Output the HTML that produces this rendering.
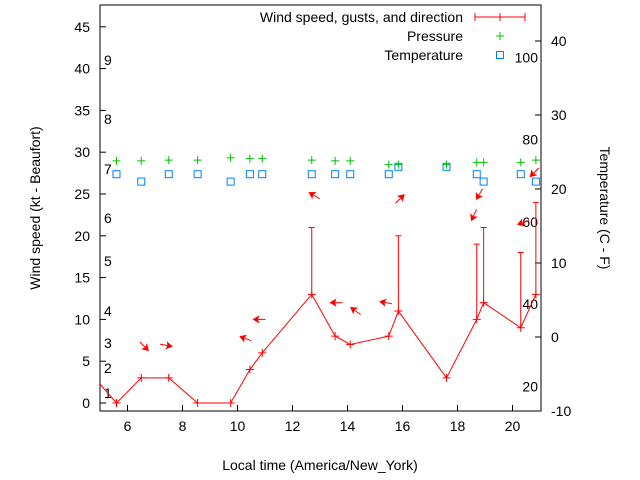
<!DOCTYPE html>
<html><head><meta charset="utf-8"><style>
body{margin:0;background:#fff;}
svg{display:block;font-family:"Liberation Sans",sans-serif;}
</style></head><body>
<svg id="c" width="640" height="480" xmlns="http://www.w3.org/2000/svg"></svg>
<script>
const times=[4.8,5.6,6.5,7.5,8.55,9.75,10.45,10.9,12.7,13.55,14.1,15.5,15.85,17.6,18.7,18.95,20.3,20.85];
const wind=[3,0,3,3,0,0,4,6,13,8,7,8,11,3,10,12,9,13];
const gustTimes=[12.7,15.85,18.7,18.95,20.3,20.85];
const gustBase=[13,11,10,12,9,13];
const gusts=[21,20,19,21,18,24];
const ptTimes=[5.6,6.5,7.5,8.55,9.75,10.45,10.9,12.7,13.55,14.1,15.5,15.85,17.6,18.7,18.95,20.3,20.85];
const temps=[22,21,22,22,21,22,22,22,22,22,22,23,23,22,21,22,21];
const pressure=[23.8,23.8,23.9,23.9,24.2,24.1,24.1,23.9,23.8,23.8,23.3,23.3,23.3,23.6,23.6,23.6,23.9];
const arrowTimes=[6.6,7.4,10.3,10.8,12.8,13.6,14.3,15.4,15.9,18.8,18.6,20.4,20.8];
const arrowLevel=[6.8,6.9,7.7,10,24.8,12,11,12,24.4,25,22.5,21.6,27.6];
const arrowAngle=[45,10,200,180,210,180,215,190,-45,120,115,160,135];
const yTicks=[0,5,10,15,20,25,30,35,40,45];
const xTicks=[6,8,10,12,14,16,18,20];
const rTicks=[-10,0,10,20,30,40];
const beaufort=[["1",1.2],["2",4.2],["3",7.2],["4",11.0],["5",17.0],["6",22.1],["7",28.0],["8",34.0],["9",41.0]];
const fahr=[20,40,60,80,100];

const L=100,R=541,T=5,B=411;
const xs=h=>L+(h-5)*27.5;
const ys=v=>403-v*8.36;
const yr=v=>337-v*7.4;
const svg=document.getElementById('c');
const NS="http://www.w3.org/2000/svg";
function el(tag,attrs,parent){const e=document.createElementNS(NS,tag);for(const k in attrs)e.setAttribute(k,attrs[k]);(parent||svg).appendChild(e);return e;}
function txt(s,x,y,anchor,name,parent){const t=el('text',{x:x,y:y,'font-size':14,'text-anchor':anchor||'start',fill:'#000'},parent);t.textContent=s;return t;}

const defs=el('defs',{});
const cp=el('clipPath',{id:'pc'},defs);el('rect',{x:L,y:T,width:R-L,height:B-T},cp);

const fr=el('rect',{x:L,y:T,width:R-L,height:B-T,fill:'none',stroke:'#000','stroke-width':1});


yTicks.forEach(v=>{const y=ys(v);el('line',{x1:L,x2:L+6,y1:y,y2:y,stroke:'#000'});txt(String(v),L-10,y+5,'end','y-tick-label');});
xTicks.forEach(v=>{const x=xs(v);el('line',{x1:x,x2:x,y1:B,y2:B-6,stroke:'#000'});txt(String(v),x,B+20,'middle','x-tick-label');});
rTicks.forEach(v=>{const y=yr(v);el('line',{x1:R,x2:R-6,y1:y,y2:y,stroke:'#000'});txt(String(v),R+10,y+5,'start','y2-tick-label');});
beaufort.forEach(b=>txt(b[0],104,ys(b[1])+5,'start','beaufort-label'));
fahr.forEach(f=>txt(String(f),538,yr((f-32)*5/9)+5,'end','fahrenheit-label'));

const yt=txt('Wind speed (kt - Beaufort)',0,0,'middle','y-axis-title');yt.setAttribute('transform','translate(40,208) rotate(-90)');
const y2=txt('Temperature (C - F)',0,0,'middle','y2-axis-title');y2.setAttribute('transform','translate(600,208) rotate(90)');
txt('Local time (America/New_York)',320,470,'middle','x-axis-title');

const g=el('g',{'clip-path':'url(#pc)'});
let d='';times.forEach((t,i)=>{d+=(i?'L':'M')+xs(t)+','+ys(wind[i]);});
const wl=el('path',{d:d,fill:'none',stroke:'#f00','stroke-width':1},g);
times.forEach((t,i)=>{const x=xs(t),y=ys(wind[i]);el('path',{d:`M${x-4},${y}H${x+4}M${x},${y-4}V${y+4}`,stroke:'#f00'},g);});
gustTimes.forEach((t,i)=>{const x=xs(t);const e=el('path',{d:`M${x},${ys(gustBase[i])}V${ys(gusts[i])}M${x-3},${ys(gusts[i])}H${x+3}`,stroke:'#f00',fill:'none'},g);});
arrowTimes.forEach((t,i)=>{const x=xs(t),y=ys(arrowLevel[i]);const a=el('g',{transform:`translate(${x},${y}) rotate(${arrowAngle[i]})`},g);

el('line',{x1:-6,y1:0,x2:6,y2:0,stroke:'#f00'},a);el('path',{d:'M6,0L1,-3L2,0L1,3Z',fill:'#f00',stroke:'#f00'},a);});
ptTimes.forEach((t,i)=>{const x=xs(t),y=yr(pressure[i]);const p=el('path',{d:`M${x-4},${y}H${x+4}M${x},${y-4}V${y+4}`,stroke:'#00c000'},g);});
ptTimes.forEach((t,i)=>{const x=xs(t),y=yr(temps[i]);const r=el('rect',{x:x-3.5,y:y-3.5,width:7,height:7,fill:'none',stroke:'#0080ff'},g);});

const lg=el('g',{});
txt('Wind speed, gusts, and direction',463,22,'end','legend-wind',lg);
el('path',{d:'M475,17H525M475,13V21M525,13V21M500,13V21',stroke:'#f00',fill:'none'},lg);
txt('Pressure',463,41,'end','legend-pressure',lg);
el('path',{d:'M496,36H504M500,32V40',stroke:'#00c000'},lg);
txt('Temperature',463,60,'end','legend-temperature',lg);
el('rect',{x:496.5,y:51.5,width:7,height:7,fill:'none',stroke:'#0080ff'},lg);
</script>
</body></html>
